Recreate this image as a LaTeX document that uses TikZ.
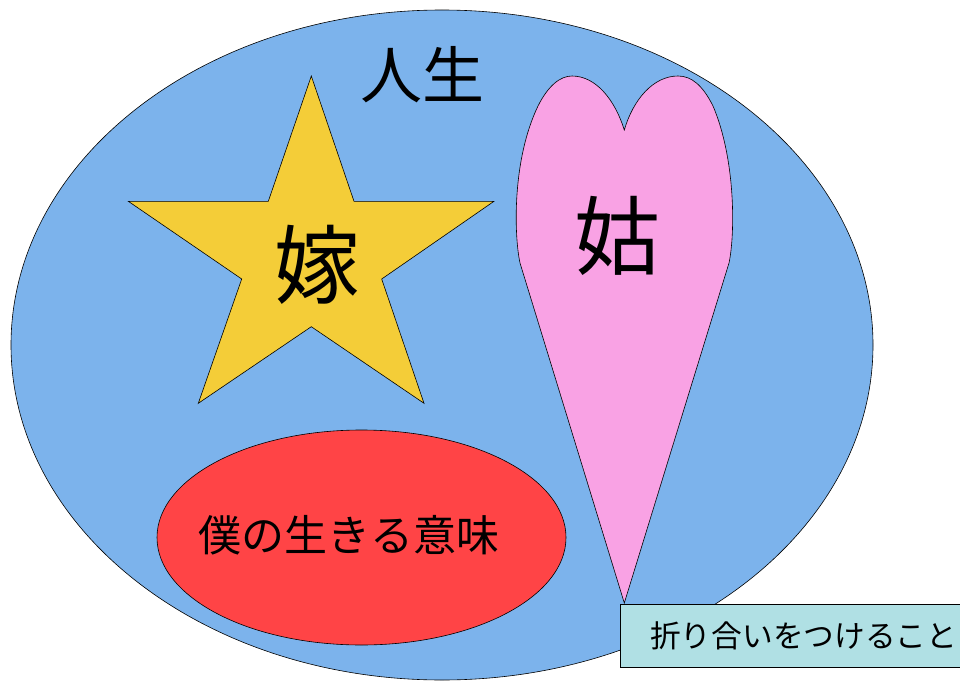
\documentclass[tikz,border=0pt]{standalone}
\usepackage{fontspec}
\newfontfamily\cjk{Noto Sans CJK JP}
\definecolor{lifeblue}{RGB}{124,179,236}
\definecolor{staryellow}{RGB}{244,205,56}
\definecolor{heartpink}{RGB}{249,162,228}
\definecolor{meaningred}{RGB}{255,68,70}
\definecolor{boxcyan}{RGB}{176,224,228}
\begin{document}
\begin{tikzpicture}[x=1pt,y=-1pt,
  outline/.style={draw=black,line width=0.6pt},
  bigtext/.style={font=\cjk\fontsize{86}{90}\selectfont,inner sep=0pt},
  lbl/.style={inner sep=0pt}]
\useasboundingbox (0,0) rectangle (960,682);
\begin{scope}
\clip (0,0) rectangle (960,682);
% life ellipse
\draw[outline,fill=lifeblue] (442,345) ellipse [x radius=431, y radius=335];
% star
\draw[outline,fill=staryellow,line join=miter]
  (311.3,76) -- (354,201.3) -- (494,201.3) -- (381.7,279) -- (424,403.3)
  -- (311.3,326.7) -- (198.3,403.3) -- (241.7,279) -- (128.3,201.3)
  -- (268.3,201.3) -- cycle;
% heart
\draw[outline,fill=heartpink]
  (624.3,603) -- (520,263)
  .. controls (514,235) and (512,160) .. (538,106)
  .. controls (548,86) and (560,76) .. (572,76)
  .. controls (596,76) and (615,100) .. (624.3,130)
  .. controls (633,100) and (653,76) .. (678,76)
  .. controls (692,76) and (703,86) .. (713,106)
  .. controls (736,160) and (735,235) .. (729,263)
  -- cycle;
% meaning ellipse
\draw[outline,fill=meaningred] (361.5,537.5) ellipse [x radius=204.5, y radius=107.5];
% box
\draw[outline,fill=boxcyan] (620.5,604.5) rectangle (975,667.5);
\end{scope}
\node[lbl,font=\cjk\fontsize{62}{66}\selectfont] (life) at (422,75) {人生};
\node[bigtext] (yome) at (317,265) {嫁};
\node[bigtext] (shuto) at (617,236) {姑};
\node[lbl,font=\cjk\fontsize{43}{46}\selectfont] (meaning) at (349,535) {僕の生きる意味};
\node[lbl,font=\cjk\fontsize{30.7}{34}\selectfont,anchor=west] (compromise) at (650,636) {折り合いをつけること};
\end{tikzpicture}
\end{document}
